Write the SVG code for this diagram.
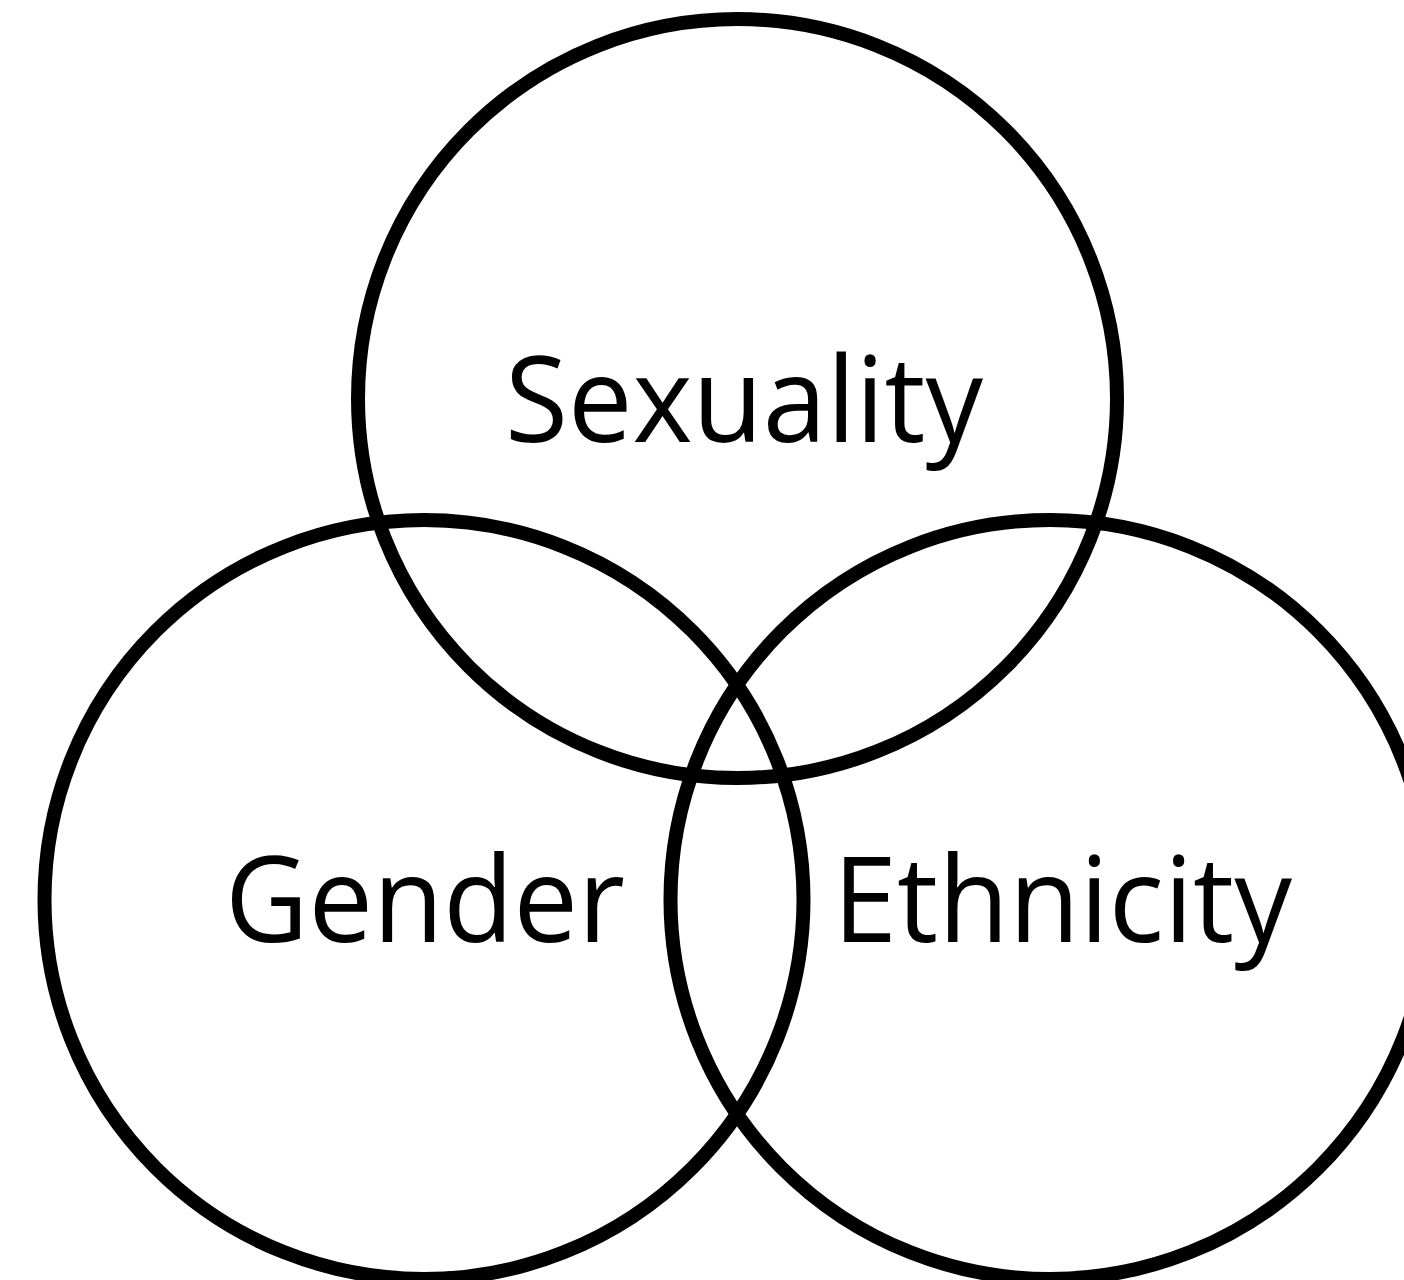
<svg xmlns="http://www.w3.org/2000/svg" width="1404" height="1280" viewBox="0 0 1404 1280">
<style>
.c{fill:none;stroke:#000;stroke-width:14}
.t{font-family:"Open Sans","Noto Sans",sans-serif;font-size:119px;fill:#000}
</style>
<rect width="1404" height="1280" fill="#fff"/>
<g id="sexuality"><circle class="c" cx="737.5" cy="398.5" r="379.5"/><text class="t" x="505" y="442" textLength="478" lengthAdjust="spacingAndGlyphs">Sexuality</text></g>
<g id="gender"><circle class="c" cx="424" cy="899.5" r="379.5"/><text class="t" x="225" y="942" textLength="400" lengthAdjust="spacingAndGlyphs">Gender</text></g>
<g id="ethnicity"><circle class="c" cx="1050" cy="899.5" r="379.5"/><text class="t" x="833" y="942" textLength="459" lengthAdjust="spacingAndGlyphs">Ethnicity</text></g>
<g id="connectors"/>
</svg>
